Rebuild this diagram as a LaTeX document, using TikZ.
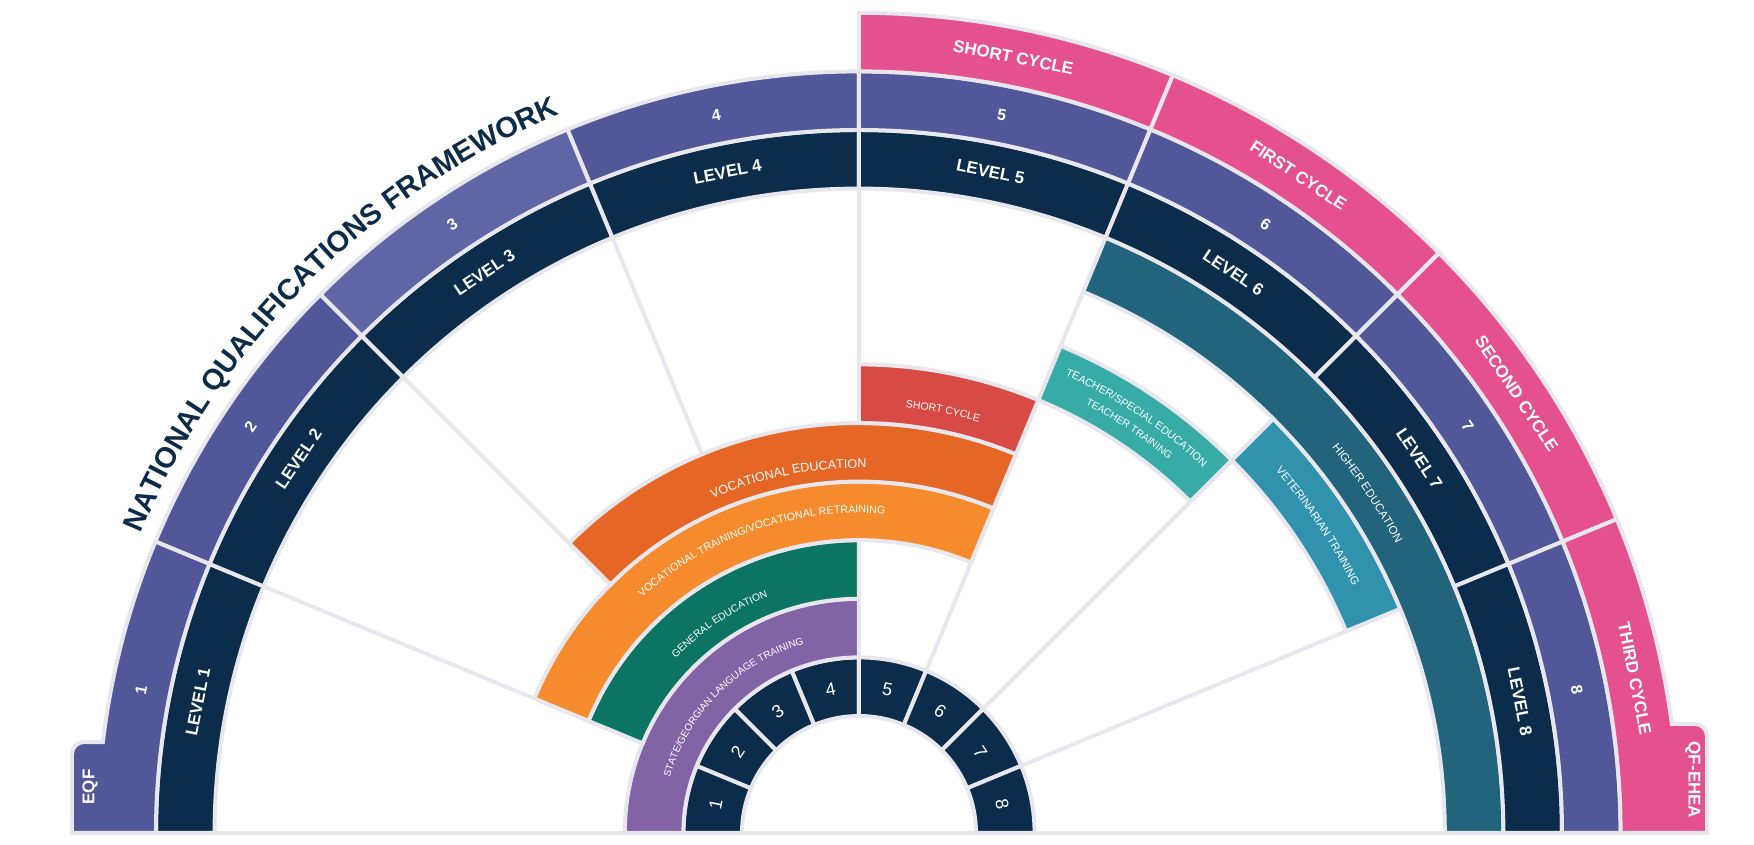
\documentclass[tikz,border=0pt]{standalone}
\usepackage{fontspec}
\setmainfont{Liberation Sans}
\usetikzlibrary{decorations.text}
\definecolor{gapc}{HTML}{E9E7EE}
\definecolor{navy}{HTML}{0B2D4B}
\definecolor{eqfp}{HTML}{52579A}
\definecolor{eqfl}{HTML}{6065A6}
\definecolor{pinkc}{HTML}{E5508F}
\definecolor{hetc}{HTML}{21647C}
\definecolor{vetc}{HTML}{3192AD}
\definecolor{teac}{HTML}{37ABA5}
\definecolor{redc}{HTML}{D84A46}
\definecolor{vec}{HTML}{E56625}
\definecolor{vtc}{HTML}{F68B2E}
\definecolor{gec}{HTML}{0B7462}
\definecolor{stc}{HTML}{8264A6}
\definecolor{titlec}{HTML}{0C2B48}
\newcommand\ringseg[5]{\filldraw[segstyle,fill=#1] (#4:#2pt) arc[start angle=#4,end angle=#5,radius=#2pt] -- (#5:#3pt) arc[start angle=#5,end angle=#4,radius=#3pt] -- cycle;}
\newcommand\arclabel[5]{\path[decorate,decoration={text along path,text align=center,text={|\fontsize{#4pt}{#4pt}\selectfont\color{white}|#5}}] (#2:#1pt) arc[start angle=#2,end angle=#3,radius=#1pt];}
\begin{document}
\begin{tikzpicture}[x=1pt,y=1pt,
  segstyle/.style={draw=gapc,line width=4pt,line join=miter},
  gline/.style={draw=gapc,line width=4pt},
  biglab/.style={text=white,inner sep=0pt,font=\bfseries\fontsize{17pt}{17pt}\selectfont},
  numlab/.style={text=white,inner sep=0pt,font=\bfseries\fontsize{16pt}{16pt}\selectfont},
  smallnum/.style={text=white,inner sep=0pt,font=\fontsize{18pt}{18pt}\selectfont}]
\useasboundingbox (-859,-12) rectangle (895,833);
% radial divider lines
\foreach \a in {22.5,45,67.5,90,112.5,135,157.5} \draw[gline] (\a:175.6pt) -- (\a:644.4pt);
\draw[gline] (-789,0) -- (850,0);
% inner ring of numbers
\foreach \i in {1,...,8}{
  \pgfmathsetmacro\s{180-22.5*(\i-1)}
  \pgfmathsetmacro\e{180-22.5*\i}
  \pgfmathsetmacro\m{180-22.5*(\i-0.5)}
  \pgfmathsetmacro\r{\m-90}
  \ringseg{navy}{117}{175.6}{\s}{\e}
  \node[smallnum,rotate=\r] (n\i) at (\m:146pt) {\i};
}
% sector bands
\ringseg{stc}{175.6}{234.2}{90}{180}
\ringseg{gec}{234.2}{292.8}{90}{157.5}
\ringseg{vtc}{292.8}{351.4}{67.5}{157.5}
\ringseg{vec}{351.4}{410}{67.5}{135}
\ringseg{redc}{410}{468.6}{67.5}{90}
\ringseg{teac}{468.6}{527.2}{45}{67.5}
\ringseg{vetc}{527.2}{585.8}{22.5}{45}
\ringseg{hetc}{585.8}{644.4}{0}{67.5}
% levels ring
\foreach \i in {1,...,8}{
  \pgfmathsetmacro\s{180-22.5*(\i-1)}
  \pgfmathsetmacro\e{180-22.5*\i}
  \ringseg{navy}{644.4}{703}{\s}{\e}
}
% EQF ring
\foreach \i/\c in {2/eqfp,3/eqfl,4/eqfp,5/eqfp,6/eqfp,7/eqfp,8/eqfp}{
  \pgfmathsetmacro\s{180-22.5*(\i-1)}
  \pgfmathsetmacro\e{180-22.5*\i}
  \ringseg{\c}{703}{761.6}{\s}{\e}
}
\filldraw[segstyle,fill=eqfp] (180:703pt) -- (-787,0) -- (-787,79) arc[start angle=180,end angle=90,radius=12pt] -- (173.14:761.6pt) arc[start angle=173.14,end angle=157.5,radius=761.6pt] -- (157.5:703pt) arc[start angle=157.5,end angle=180,radius=703pt] -- cycle;
% QF-EHEA ring
\ringseg{pinkc}{761.6}{820.2}{90}{67.5}
\ringseg{pinkc}{761.6}{820.2}{67.5}{45}
\ringseg{pinkc}{761.6}{820.2}{45}{22.5}
\filldraw[segstyle,fill=pinkc] (0:761.6pt) -- (848,0) -- (848,97) arc[start angle=0,end angle=90,radius=12pt] -- (7.637:820.2pt) arc[start angle=7.637,end angle=22.5,radius=820.2pt] -- (22.5:761.6pt) arc[start angle=22.5,end angle=0,radius=761.6pt] -- cycle;
% labels of levels and EQF numbers
\foreach \i in {1,...,8}{
  \pgfmathsetmacro\m{180-22.5*(\i-0.5)}
  \pgfmathsetmacro\r{\m-90}
  \node[biglab,rotate=\r] (lv\i) at (\m:674pt) {LEVEL \i};
  \node[numlab,rotate=\r] (eq\i) at (\m:732pt) {\i};
}
\node[biglab,rotate=-11.25] (c1) at (78.75:791pt) {SHORT CYCLE};
\node[biglab,rotate=-33.75] (c2) at (56.25:791pt) {FIRST CYCLE};
\node[biglab,rotate=-56.25] (c3) at (33.75:791pt) {SECOND CYCLE};
\node[biglab,rotate=-78.75] (c4) at (11.25:791pt) {THIRD CYCLE};
\node[biglab,rotate=90] (eqf) at (-769,46) {EQF};
\node[biglab,rotate=-90] (qfe) at (834,53) {QF-EHEA};
% title
\path[decorate,decoration={text along path,text align=center,text={|\fontsize{29pt}{29pt}\selectfont\bfseries\color{titlec}|NATIONAL QUALIFICATIONS FRAMEWORK}}] (180:778pt) arc[start angle=180,end angle=90,radius=778pt];
% band labels
\arclabel{197}{180}{90}{10}{STATE/GEORGIAN LANGUAGE TRAINING}
\arclabel{253}{157.5}{90}{10.2}{GENERAL EDUCATION}
\arclabel{320}{150.5}{67.5}{10.7}{VOCATIONAL TRAINING/VOCATIONAL RETRAINING}
\arclabel{365}{135}{67.5}{12.5}{VOCATIONAL EDUCATION}
\arclabel{428}{90}{67.5}{10.5}{SHORT CYCLE}
\arclabel{502}{67.5}{45}{10.8}{TEACHER/SPECIAL EDUCATION}
\arclabel{485}{67.5}{45}{10.2}{TEACHER TRAINING}
\arclabel{552}{45}{22.5}{11.2}{VETERINARIAN TRAINING}
\arclabel{610}{67.5}{0}{11.5}{HIGHER EDUCATION}
\end{tikzpicture}
\end{document}
